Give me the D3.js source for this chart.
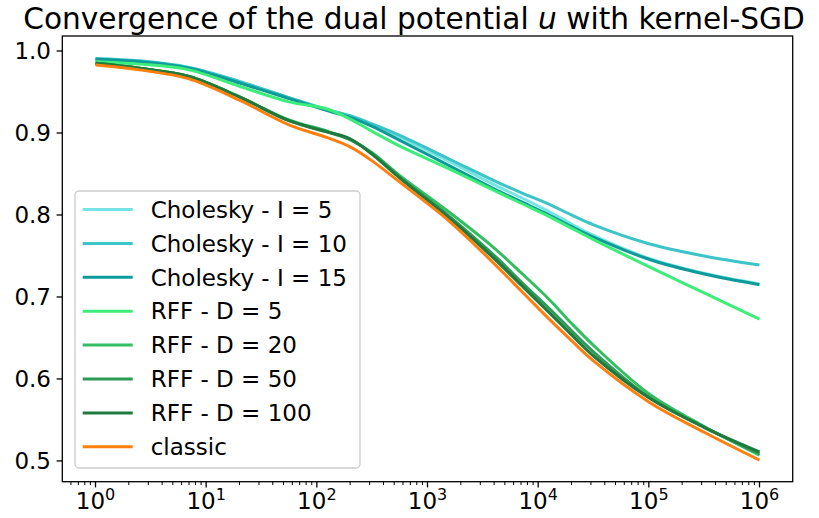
<!DOCTYPE html>
<html>
<head>
<meta charset="utf-8">
<script src="https://cdn.jsdelivr.net/npm/d3@7"></script>
<style>
  body { margin: 0; background: #fff; }
  text { font-family: "DejaVu Sans", sans-serif; fill: #000; }
</style>
</head>
<body>
<div id="chart"></div>
<script>
// Iterations (x axis, log scale)
var iterations = [1, 2.5, 7, 20, 56, 126, 200, 316, 562, 1585, 3981, 7079, 12589, 19953, 31623, 100000, 316228, 1000000];

// Values of each run
var chol5   = [0.990, 0.987, 0.979, 0.962, 0.943, 0.928, 0.920, 0.910, 0.895, 0.865, 0.837, 0.821, 0.804, 0.789, 0.775, 0.747, 0.729, 0.716];
var chol10  = [0.991, 0.988, 0.980, 0.963, 0.943, 0.928, 0.921, 0.911, 0.897, 0.868, 0.842, 0.827, 0.813, 0.800, 0.788, 0.765, 0.750, 0.739];
var chol15  = [0.990, 0.987, 0.979, 0.961, 0.942, 0.927, 0.919, 0.908, 0.891, 0.860, 0.832, 0.816, 0.800, 0.786, 0.773, 0.746, 0.728, 0.715];
var rff5    = [0.987, 0.984, 0.977, 0.957, 0.938, 0.929, 0.917, 0.902, 0.884, 0.856, 0.830, 0.814, 0.798, 0.784, 0.770, 0.737, 0.705, 0.673];
var rff20   = [0.985, 0.979, 0.969, 0.944, 0.916, 0.902, 0.892, 0.876, 0.848, 0.803, 0.760, 0.729, 0.697, 0.668, 0.641, 0.582, 0.542, 0.507];
var rff50   = [0.985, 0.979, 0.969, 0.944, 0.915, 0.901, 0.892, 0.875, 0.846, 0.798, 0.751, 0.718, 0.686, 0.659, 0.633, 0.578, 0.541, 0.509];
var rff100  = [0.985, 0.979, 0.969, 0.944, 0.915, 0.901, 0.893, 0.874, 0.845, 0.796, 0.747, 0.714, 0.681, 0.654, 0.628, 0.577, 0.541, 0.511];
var classic = [0.983, 0.977, 0.966, 0.940, 0.910, 0.894, 0.883, 0.866, 0.840, 0.792, 0.741, 0.707, 0.673, 0.647, 0.622, 0.572, 0.535, 0.501];

var seriesNames = ['Cholesky - I = 5', 'Cholesky - I = 10', 'Cholesky - I = 15',
                   'RFF - D = 5', 'RFF - D = 20', 'RFF - D = 50', 'RFF - D = 100', 'classic'];
var seriesValues = [chol5, chol10, chol15, rff5, rff20, rff50, rff100, classic];
var colors = ['#76e4e4', '#3cc4c6', '#0e9a9a', '#3ced7b', '#33be62', '#2d9a55', '#1f7a3e', '#ff7f0e'];

var yTicks = [0.5, 0.6, 0.7, 0.8, 0.9, 1.0];
var xTicks = [1, 10, 100, 1000, 10000, 100000, 1000000];

// Plot frame
var margin = { top: 36, right: 26.3, bottom: 36.3, left: 62.3 };
var W = 819, H = 518;
var width = W - margin.left - margin.right;
var height = H - margin.top - margin.bottom;

var svg = d3.select('#chart').append('svg')
    .attr('width', W)
    .attr('height', H);

var g = svg.append('g')
    .attr('transform', 'translate(' + margin.left + ',' + margin.top + ')');

var x = d3.scaleLog().domain([Math.pow(10, -0.3), Math.pow(10, 6.3)]).range([0, width]);
var y = d3.scaleLinear().domain([0.4747, 1.0183]).range([height, 0]);

// Title
svg.append('text')
    .attr('x', 414)
    .attr('y', 29)
    .attr('text-anchor', 'middle')
    .style('font-size', '29.6px')
    .html('Convergence of the dual potential <tspan font-style="italic">u</tspan> with kernel-SGD');

// Curves
var line = d3.line()
    .x(function (d) { return x(d[0]); })
    .y(function (d) { return y(d[1]); })
    .curve(d3.curveCatmullRom.alpha(0.5));

seriesValues.forEach(function (vals, i) {
    g.append('path')
        .datum(iterations.map(function (it, j) { return [it, vals[j]]; }))
        .attr('fill', 'none')
        .attr('stroke', colors[i])
        .attr('stroke-width', 3)
        .attr('d', line);
});

// Minor x ticks
var minor = [];
for (var e = -1; e <= 6; e++) {
    for (var m = 2; m <= 9; m++) {
        var v = m * Math.pow(10, e);
        if (v >= x.domain()[0] && v <= x.domain()[1]) minor.push(v);
    }
}
g.selectAll('.minor')
    .data(minor)
    .enter()
    .append('line')
    .attr('x1', function (d) { return x(d); })
    .attr('x2', function (d) { return x(d); })
    .attr('y1', height)
    .attr('y2', height + 3.3)
    .attr('stroke', '#000')
    .attr('stroke-width', 1);

// Major x ticks and labels
g.selectAll('.xmajor')
    .data(xTicks)
    .enter()
    .append('line')
    .attr('x1', function (d) { return x(d); })
    .attr('x2', function (d) { return x(d); })
    .attr('y1', height)
    .attr('y2', height + 5.7)
    .attr('stroke', '#000')
    .attr('stroke-width', 1.3);

var xl = g.selectAll('.xlabel')
    .data(xTicks)
    .enter()
    .append('text')
    .attr('x', function (d) { return x(d); })
    .attr('y', height + 27)
    .attr('text-anchor', 'middle')
    .style('font-size', '23px');
xl.append('tspan').text('10');
xl.append('tspan')
    .attr('dy', '-0.55em')
    .style('font-size', '16px')
    .text(function (d) { return Math.round(Math.log10(d)); });

// Y ticks and labels
g.selectAll('.ymajor')
    .data(yTicks)
    .enter()
    .append('line')
    .attr('x1', -5.7)
    .attr('x2', 0)
    .attr('y1', function (d) { return y(d); })
    .attr('y2', function (d) { return y(d); })
    .attr('stroke', '#000')
    .attr('stroke-width', 1.3);

g.selectAll('.ylabel')
    .data(yTicks)
    .enter()
    .append('text')
    .attr('x', -11.3)
    .attr('y', function (d) { return y(d); })
    .attr('dy', '0.36em')
    .attr('text-anchor', 'end')
    .style('font-size', '23px')
    .text(function (d) { return d.toFixed(1); });

// Frame
g.append('rect')
    .attr('width', width)
    .attr('height', height)
    .attr('fill', 'none')
    .attr('stroke', '#000')
    .attr('stroke-width', 1.3);

// Legend
var legend = svg.append('g').attr('transform', 'translate(75,191)');
legend.append('rect')
    .attr('width', 285)
    .attr('height', 277)
    .attr('rx', 4)
    .attr('fill', '#fff')
    .attr('fill-opacity', 0.8)
    .attr('stroke', '#cccccc')
    .attr('stroke-width', 1.3);

seriesNames.forEach(function (name, i) {
    var row = 18.5 + i * 33.9;
    legend.append('line')
        .attr('x1', 7.7)
        .attr('x2', 57.7)
        .attr('y1', row)
        .attr('y2', row)
        .attr('stroke', colors[i])
        .attr('stroke-width', 3);
    legend.append('text')
        .attr('x', 75.7)
        .attr('y', row)
        .attr('dy', '0.36em')
        .style('font-size', '23px')
        .text(name);
});
</script>
</body>
</html>
